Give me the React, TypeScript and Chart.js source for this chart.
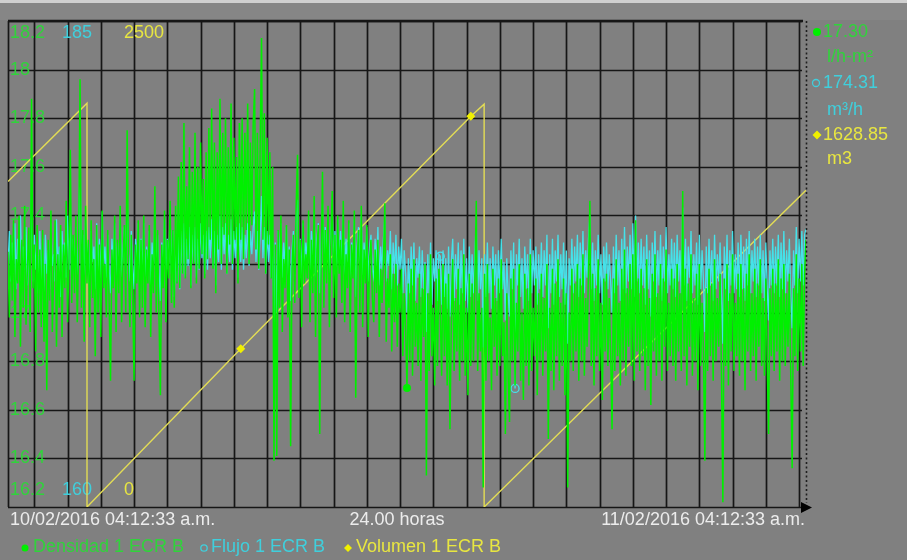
import React, { useEffect, useRef } from "react";
import { Chart, registerables } from "chart.js";

Chart.register(...registerables);

// ---------- texts ----------
const START_LABEL = "10/02/2016 04:12:33 a.m.";
const END_LABEL = "11/02/2016 04:12:33 a.m.";
const SPAN_LABEL = "24.00 horas";
const SERIES_NAMES = ["Densidad 1 ECR B", "Flujo 1 ECR B", "Volumen 1 ECR B"];
const CURRENT_VALUES = ["17.30", "174.31", "1628.85"];
const UNITS = ["l/h-m²", "m³/h", "m3"];

// ---------- axes ----------
const DENSITY_TICKS = [16.2, 16.4, 16.6, 16.8, 17, 17.2, 17.4, 17.6, 17.8, 18, 18.2];
const FLOW_TICKS = [160, 185];
const VOLUME_TICKS = [0, 2500];
const HOURS_SPAN = 24;
const SAMPLES_PER_HOUR = 24;
const FIRST_WHOLE_HOUR = 0.7908; // 04:12:33 -> 05:00:00

// ---------- series (one sample every 2.5 minutes, one row per hour) ----------
const densidad = [
  17.25, 16.98, 17.32, 17.05, 17.38, 16.90, 17.22, 17.12, 17.40, 16.86, 17.30, 17.02, 17.44, 16.95, 17.18, 17.35, 16.92, 17.88, 17.10, 17.28, 16.84, 17.36, 17.00, 17.26,
  16.94, 17.34, 16.88, 17.20, 16.68, 17.30, 17.05, 17.42, 16.92, 17.16, 17.38, 16.86, 17.24, 17.02, 17.36, 16.90, 17.28, 17.10, 17.46, 16.96, 17.22, 17.67, 17.04, 17.32,
  17.08, 17.40, 16.96, 17.26, 17.96, 17.02, 17.34, 16.88, 17.44, 17.12, 17.30, 16.94, 17.38, 17.06, 17.22, 16.82, 17.36, 17.00, 17.28, 16.90, 17.42, 17.10, 17.20, 16.98,
  17.34, 17.04, 16.72, 17.26, 17.10, 17.40, 16.92, 17.30, 17.08, 17.44, 16.96, 17.22, 17.36, 17.00, 17.75, 17.18, 16.94, 17.32, 17.06, 16.72, 17.28, 17.12, 17.38, 16.98,
  17.30, 17.02, 17.40, 16.94, 17.26, 17.12, 17.36, 16.90, 17.24, 17.08, 17.52, 17.00, 17.34, 16.98, 16.66, 17.28, 17.10, 17.42, 16.96, 17.30, 17.14, 17.46, 17.04, 17.34,
  17.02, 17.44, 17.12, 17.56, 17.10, 17.62, 17.16, 17.78, 17.14, 17.52, 17.22, 17.68, 17.10, 17.58, 17.20, 17.74, 17.12, 17.60, 17.18, 17.70, 17.24, 17.55, 17.14, 17.66,
  17.22, 17.76, 17.30, 17.84, 17.18, 17.70, 17.08, 17.66, 17.26, 17.88, 17.20, 17.74, 17.32, 17.80, 17.16, 17.68, 17.28, 17.86, 17.20, 17.72, 17.30, 17.64, 17.12, 17.78,
  17.30, 17.80, 17.22, 17.74, 17.34, 17.86, 17.20, 17.70, 17.36, 17.78, 17.92, 17.26, 17.74, 17.18, 17.68, 18.13, 17.30, 17.82, 17.16, 17.72, 17.28, 17.66, 17.14, 17.60,
  16.39, 17.28, 16.41, 17.34, 17.02, 17.40, 16.92, 17.22, 17.10, 17.36, 16.98, 17.26, 16.45, 17.18, 17.32, 17.04, 17.44, 17.65, 17.06, 17.30, 16.94, 17.38, 17.12, 17.24,
  17.14, 17.42, 16.96, 17.30, 17.08, 17.48, 16.90, 17.26, 17.36, 16.50, 17.20, 17.58, 17.02, 17.34, 17.12, 17.44, 16.94, 17.28, 17.50, 17.06, 17.32, 16.98, 17.40, 17.16,
  17.30, 17.04, 17.46, 16.96, 17.24, 17.10, 17.38, 16.92, 17.28, 17.14, 17.42, 16.65, 17.20, 17.34, 17.00, 17.44, 16.94, 17.26, 17.12, 17.36, 16.90, 17.22, 17.30, 17.06,
  16.96, 17.26, 17.08, 17.30, 16.90, 17.18, 17.04, 17.22, 17.45, 16.88, 17.14, 17.02, 17.24, 16.84, 17.16, 16.96, 17.20, 16.86, 17.12, 17.00, 17.18, 16.82, 17.08, 16.94,
  16.69, 17.12, 16.80, 17.18, 16.74, 17.22, 16.86, 17.04, 16.78, 17.16, 16.72, 17.10, 16.90, 17.20, 16.33, 17.08, 16.76, 17.24, 16.82, 17.02, 16.70, 17.14, 16.78, 17.18,
  17.00, 16.74, 17.20, 16.82, 17.12, 16.70, 17.16, 16.52, 16.96, 17.22, 16.76, 17.06, 16.84, 17.18, 16.72, 17.10, 16.80, 17.24, 16.74, 17.02, 16.66, 17.16, 16.78, 17.12,
  16.80, 17.14, 17.46, 16.76, 17.08, 16.84, 17.02, 16.28, 17.16, 16.72, 17.20, 16.80, 16.98, 16.68, 17.18, 16.86, 17.06, 16.74, 17.14, 16.78, 17.22, 16.82, 16.96, 16.50,
  17.08, 16.74, 16.55, 17.14, 16.80, 17.18, 16.70, 17.04, 16.84, 17.20, 16.72, 17.00, 16.64, 17.16, 16.78, 17.10, 16.70, 17.24, 16.76, 17.02, 16.82, 17.14, 16.66, 17.08,
  16.80, 17.16, 16.74, 17.06, 16.84, 17.20, 16.48, 17.02, 16.76, 17.18, 16.68, 17.12, 16.82, 17.22, 16.72, 17.04, 16.78, 17.14, 16.66, 17.08, 16.28, 17.00, 16.80, 17.18,
  16.76, 17.12, 16.84, 17.20, 16.72, 17.14, 16.80, 17.24, 16.74, 17.06, 16.86, 17.18, 17.46, 16.78, 17.16, 16.70, 17.10, 16.82, 17.22, 16.76, 17.04, 16.64, 17.14, 16.84,
  17.16, 16.78, 17.06, 16.84, 16.52, 17.14, 16.76, 17.22, 16.82, 17.04, 16.70, 17.18, 16.80, 17.26, 16.74, 17.10, 16.86, 17.20, 16.78, 17.24, 16.72, 17.38, 16.84, 17.14,
  16.76, 17.18, 16.82, 17.10, 16.68, 17.22, 16.78, 17.06, 16.62, 17.16, 16.84, 17.24, 16.74, 17.08, 16.80, 17.20, 16.72, 17.14, 16.86, 17.26, 16.76, 17.04, 16.82, 17.18,
  16.78, 17.14, 16.72, 17.20, 16.84, 17.08, 16.76, 17.50, 16.82, 17.18, 16.70, 17.12, 16.86, 17.24, 16.74, 17.06, 16.80, 17.16, 16.68, 17.20, 16.78, 17.04, 16.84, 16.39,
  17.10, 16.76, 17.18, 16.82, 17.12, 16.72, 17.22, 16.80, 17.06, 16.86, 17.16, 16.74, 16.22, 17.14, 16.78, 17.20, 16.70, 17.08, 16.84, 17.24, 16.76, 17.04, 16.82, 17.16,
  16.74, 17.20, 16.80, 17.10, 16.68, 17.16, 16.84, 17.24, 16.76, 17.08, 16.82, 17.18, 16.72, 17.12, 16.86, 17.22, 16.78, 17.06, 16.74, 17.14, 16.80, 16.50, 17.10, 16.82,
  17.18, 16.76, 17.12, 16.84, 17.22, 16.72, 17.14, 16.80, 17.20, 16.78, 17.08, 16.86, 17.16, 16.74, 16.36, 17.10, 16.82, 17.24, 16.76, 17.14, 16.84, 17.20, 16.78, 17.16, 17.30,
];

const flujo = [
  172.4, 174.2, 171.6, 173.6, 172.0, 174.6, 171.2, 173.8, 172.6, 175.0, 171.8, 173.4, 172.2, 174.4, 171.4, 173.2, 172.8, 176.0, 171.6, 174.0, 172.2, 173.6, 171.0, 174.2,
  171.4, 173.8, 170.6, 174.0, 172.0, 173.2, 171.2, 174.6, 172.4, 173.0, 171.6, 174.8, 172.0, 173.4, 170.8, 174.2, 172.6, 173.6, 171.8, 175.0, 172.2, 175.6, 171.4, 173.8,
  172.0, 174.4, 171.6, 173.6, 178.5, 172.2, 174.0, 171.4, 174.8, 172.4, 173.6, 171.0, 174.2, 172.6, 173.4, 171.2, 174.6, 172.0, 173.8, 171.6, 175.2, 172.4, 173.4, 171.8,
  174.0, 172.2, 171.0, 173.8, 172.6, 174.6, 171.4, 173.6, 172.0, 174.8, 171.8, 173.2, 174.4, 172.0, 176.4, 173.0, 171.6, 174.2, 172.4, 171.2, 173.8, 172.6, 174.6, 171.8,
  173.8, 172.0, 174.6, 171.6, 173.4, 172.4, 174.2, 171.2, 173.6, 172.2, 175.2, 171.8, 174.0, 172.0, 170.6, 173.6, 172.4, 174.8, 171.6, 173.8, 172.6, 175.0, 172.0, 174.2,
  170.8, 173.4, 171.6, 174.0, 171.2, 174.2, 172.0, 174.6, 171.8, 173.8, 172.4, 174.4, 171.4, 174.0, 172.6, 174.4, 171.8, 173.8, 172.2, 174.6, 172.8, 174.0, 172.0, 174.2,
  172.2, 174.4, 172.8, 174.8, 172.4, 174.2, 171.4, 174.0, 172.6, 175.0, 172.2, 174.4, 173.0, 174.6, 172.0, 174.0, 172.6, 174.8, 172.2, 174.2, 172.8, 174.4, 171.8, 174.6,
  172.6, 174.4, 172.2, 174.0, 172.8, 174.6, 172.4, 174.2, 173.0, 174.4, 175.2, 172.6, 174.2, 172.2, 174.0, 176.0, 172.8, 174.4, 172.0, 174.2, 172.6, 174.0, 171.8, 173.6,
  169.5, 173.6, 170.0, 174.2, 172.6, 174.6, 171.8, 173.6, 172.4, 174.4, 171.6, 173.4, 170.6, 173.2, 174.2, 172.4, 174.8, 175.8, 172.2, 173.8, 171.8, 174.6, 172.6, 173.6,
  172.8, 175.0, 171.8, 174.2, 172.6, 175.2, 171.6, 173.8, 174.6, 171.0, 173.4, 175.6, 172.2, 174.4, 172.8, 175.0, 171.8, 174.0, 175.4, 172.4, 174.2, 172.0, 174.8, 172.6,
  174.2, 172.4, 175.0, 171.8, 173.8, 172.6, 174.6, 171.6, 173.6, 172.8, 174.8, 170.8, 173.4, 174.4, 172.0, 175.0, 171.8, 173.6, 172.4, 174.4, 171.6, 173.4, 174.0, 172.2,
  171.8, 173.8, 172.4, 174.4, 171.4, 173.4, 172.2, 173.8, 175.0, 171.6, 173.2, 172.4, 174.2, 171.2, 173.6, 172.0, 174.0, 171.4, 173.4, 172.2, 173.8, 171.0, 173.2, 172.0,
  170.0, 172.8, 171.0, 173.4, 171.4, 173.6, 170.6, 172.8, 171.8, 173.4, 170.8, 173.2, 171.2, 172.6, 169.0, 173.0, 171.0, 173.6, 170.4, 172.8, 171.6, 173.2, 170.6, 173.0,
  172.9, 170.4, 173.2, 170.8, 172.8, 170.2, 173.4, 169.8, 172.6, 173.8, 170.6, 173.0, 171.2, 173.6, 170.4, 173.2, 171.0, 173.8, 170.6, 172.8, 170.0, 173.4, 170.8, 173.0,
  171.0, 173.0, 174.8, 170.6, 173.2, 171.2, 172.8, 168.2, 173.0, 170.8, 173.6, 171.0, 172.8, 170.2, 173.4, 171.4, 173.0, 170.6, 173.2, 171.0, 173.8, 171.2, 172.6, 169.6,
  172.8, 171.0, 169.8, 173.2, 171.2, 173.6, 166.1, 173.0, 171.4, 173.8, 170.8, 172.8, 170.2, 173.4, 171.2, 173.0, 170.6, 173.8, 171.0, 173.2, 171.4, 173.4, 170.4, 173.0,
  171.2, 173.6, 170.8, 173.2, 171.4, 174.0, 169.2, 173.0, 171.0, 173.8, 170.4, 173.2, 171.6, 174.0, 170.8, 173.0, 171.2, 173.6, 170.4, 173.2, 168.4, 172.8, 171.4, 173.8,
  171.0, 173.4, 171.6, 174.0, 170.8, 173.6, 171.4, 174.2, 171.0, 173.2, 171.8, 173.8, 175.0, 171.2, 173.6, 170.6, 173.2, 171.4, 174.0, 171.0, 173.0, 170.4, 173.4, 171.6,
  173.6, 171.2, 173.0, 171.6, 170.0, 173.4, 171.0, 174.0, 171.4, 173.2, 170.6, 173.8, 171.2, 174.4, 171.0, 173.4, 171.6, 174.0, 171.2, 174.6, 170.8, 175.0, 171.6, 173.6,
  171.0, 173.8, 171.4, 173.4, 170.4, 174.0, 171.2, 173.2, 169.8, 173.6, 171.6, 174.2, 170.8, 173.2, 171.4, 174.0, 170.6, 173.4, 171.6, 174.4, 171.0, 173.0, 171.4, 173.8,
  171.2, 173.6, 170.8, 174.0, 171.6, 173.2, 171.0, 175.4, 171.4, 173.8, 170.6, 173.4, 171.8, 174.2, 171.0, 173.0, 171.4, 173.6, 170.4, 174.0, 171.2, 173.2, 171.6, 169.0,
  173.4, 171.0, 173.8, 171.4, 173.2, 170.6, 174.0, 171.2, 173.0, 171.6, 173.6, 170.8, 168.4, 173.4, 171.2, 174.0, 170.6, 173.2, 171.4, 174.2, 171.0, 173.0, 171.2, 173.6,
  170.8, 174.0, 171.2, 173.4, 170.6, 173.8, 171.4, 174.2, 171.0, 173.2, 171.6, 173.8, 170.8, 173.4, 171.4, 174.0, 171.0, 173.2, 170.6, 173.6, 171.2, 169.6, 173.2, 171.4,
  173.8, 171.0, 173.4, 171.4, 174.0, 170.8, 173.6, 171.2, 174.2, 171.0, 173.2, 171.6, 173.8, 170.8, 169.2, 173.2, 171.4, 174.4, 171.0, 173.8, 171.6, 174.2, 171.4, 174.0, 174.31,
];

const volumenHours = [0, 2.376, 2.376, 7.0, 13.92, 14.32, 14.32, 24];
const volumenValues = [1675, 2077, 0, 814, 2010, 2072, 0, 1629];

// sample indices that carry a marker
const DENSITY_MARKERS = [288];
const FLOW_MARKERS = [312, 366];
const VOLUME_MARKERS = [3, 4];

// ---------- colours ----------
const GREEN = "#00f000";
const CYAN = "#45e2ea";
const YELLOW = "#e2dc55";
const GREEN_TXT = "#2fd43a";
const CYAN_TXT = "#3fcfdc";
const YELLOW_TXT = "#e8e640";
const WHITE_TXT = "#ececec";
const BG = "#808080";
const FONT = '18px "Liberation Sans", Arial, sans-serif';

function drawDiamond(ctx: CanvasRenderingContext2D, x: number, y: number, r: number, color: string) {
  ctx.beginPath();
  ctx.moveTo(x, y - r);
  ctx.lineTo(x + r, y);
  ctx.lineTo(x, y + r);
  ctx.lineTo(x - r, y);
  ctx.closePath();
  ctx.fillStyle = color;
  ctx.fill();
}

const framePlugin = {
  id: "frame",
  beforeDraw(chart: any) {
    const ctx = chart.ctx as CanvasRenderingContext2D;
    const w = chart.width;
    const h = chart.height;
    ctx.save();
    ctx.fillStyle = BG;
    ctx.fillRect(0, 0, w, h);
    ctx.fillStyle = "#d0d0d0";
    ctx.fillRect(0, 0, w, 3);
    ctx.fillStyle = "#868686";
    ctx.fillRect(0, 3, w, 17);
    ctx.restore();
  },
  beforeDatasetsDraw(chart: any) {
    const ctx = chart.ctx as CanvasRenderingContext2D;
    const a = chart.chartArea;
    const sx = chart.scales.x;
    const sd = chart.scales.yD;
    const sf = chart.scales.yF;
    const sv = chart.scales.yV;
    ctx.save();
    ctx.strokeStyle = "#161616";
    ctx.lineWidth = 1.7;
    DENSITY_TICKS.forEach((t) => {
      const y = Math.round(sd.getPixelForValue(t)) + 0.5;
      ctx.beginPath();
      ctx.moveTo(a.left, y);
      ctx.lineTo(a.right - 4, y);
      ctx.stroke();
    });
    for (let k = 0; k < HOURS_SPAN; k++) {
      const x = Math.round(sx.getPixelForValue(FIRST_WHOLE_HOUR + k)) + 0.5;
      ctx.beginPath();
      ctx.moveTo(x, a.top);
      ctx.lineTo(x, a.bottom);
      ctx.stroke();
    }
    ctx.beginPath();
    ctx.moveTo(a.left + 0.5, a.top);
    ctx.lineTo(a.left + 0.5, a.bottom);
    ctx.stroke();
    ctx.lineWidth = 2.5;
    ctx.beginPath();
    ctx.moveTo(a.left, a.top);
    ctx.lineTo(a.right - 3, a.top);
    ctx.stroke();

    // axis labels (behind the data)
    ctx.font = FONT;
    ctx.textBaseline = "middle";
    ctx.textAlign = "left";
    const labelY = (scale: any, v: number, min: number, max: number) => {
      const y = scale.getPixelForValue(v);
      if (v === max) return y + 12;
      if (v === min) return y - 17;
      return y;
    };
    ctx.fillStyle = GREEN_TXT;
    DENSITY_TICKS.forEach((t) => {
      ctx.fillText(String(t), a.left + 2, labelY(sd, t, DENSITY_TICKS[0], DENSITY_TICKS[DENSITY_TICKS.length - 1]));
    });
    ctx.fillStyle = CYAN_TXT;
    FLOW_TICKS.forEach((t) => {
      ctx.fillText(String(t), a.left + 54, labelY(sf, t, FLOW_TICKS[0], FLOW_TICKS[1]));
    });
    ctx.fillStyle = YELLOW_TXT;
    VOLUME_TICKS.forEach((t) => {
      ctx.fillText(String(t), a.left + 116, labelY(sv, t, VOLUME_TICKS[0], VOLUME_TICKS[1]));
    });
    ctx.restore();
  },
  afterDraw(chart: any) {
    const ctx = chart.ctx as CanvasRenderingContext2D;
    const a = chart.chartArea;
    ctx.save();
    ctx.strokeStyle = "#1e1e1e";
    ctx.lineWidth = 1.6;
    ctx.setLineDash([2, 2.5]);
    ctx.beginPath();
    ctx.moveTo(a.right + 0.5, a.top);
    ctx.lineTo(a.right + 0.5, a.bottom - 4);
    ctx.stroke();
    ctx.setLineDash([]);
    ctx.fillStyle = "#000";
    ctx.beginPath();
    ctx.moveTo(a.right - 5, a.bottom - 5);
    ctx.lineTo(a.right + 6, a.bottom + 0.5);
    ctx.lineTo(a.right - 5, a.bottom + 6);
    ctx.closePath();
    ctx.fill();

    ctx.font = FONT;
    ctx.textBaseline = "middle";
    ctx.fillStyle = WHITE_TXT;
    ctx.textAlign = "left";
    ctx.fillText(START_LABEL, a.left + 2, 520);
    ctx.textAlign = "center";
    ctx.fillText(SPAN_LABEL, (a.left + a.right) / 2 - 10, 520);
    ctx.textAlign = "right";
    ctx.fillText(END_LABEL, a.right - 1, 520);

    // legend
    ctx.textAlign = "left";
    ctx.fillStyle = GREEN;
    ctx.beginPath();
    ctx.arc(25, 548, 3.5, 0, Math.PI * 2);
    ctx.fill();
    ctx.fillStyle = GREEN_TXT;
    ctx.fillText(SERIES_NAMES[0], 33, 547);
    ctx.strokeStyle = CYAN_TXT;
    ctx.lineWidth = 1.3;
    ctx.beginPath();
    ctx.arc(204, 548, 3.2, 0, Math.PI * 2);
    ctx.stroke();
    ctx.fillStyle = CYAN_TXT;
    ctx.fillText(SERIES_NAMES[1], 211, 547);
    drawDiamond(ctx, 348, 548, 4, "#f0f000");
    ctx.fillStyle = YELLOW_TXT;
    ctx.fillText(SERIES_NAMES[2], 356, 547);

    // current values panel
    const px = a.right + 11;
    ctx.fillStyle = GREEN;
    ctx.beginPath();
    ctx.arc(px, 32, 4, 0, Math.PI * 2);
    ctx.fill();
    ctx.fillStyle = GREEN_TXT;
    ctx.fillText(CURRENT_VALUES[0], px + 6, 32);
    ctx.fillText(UNITS[0], px + 10, 57);
    ctx.strokeStyle = CYAN_TXT;
    ctx.lineWidth = 1.3;
    ctx.beginPath();
    ctx.arc(px - 1, 83, 3.5, 0, Math.PI * 2);
    ctx.stroke();
    ctx.fillStyle = CYAN_TXT;
    ctx.fillText(CURRENT_VALUES[1], px + 6, 83);
    ctx.fillText(UNITS[1], px + 10, 110);
    drawDiamond(ctx, px, 135, 4.5, "#f0f000");
    ctx.fillStyle = YELLOW_TXT;
    ctx.fillText(CURRENT_VALUES[2], px + 6, 135);
    ctx.fillText(UNITS[2], px + 10, 159);
    ctx.restore();
  },
};

export default function App() {
  const ref = useRef<HTMLCanvasElement>(null);

  useEffect(() => {
    const canvas = ref.current;
    if (!canvas) return;
    const hourOf = (i: number) => i / SAMPLES_PER_HOUR;

    const chart = new Chart(canvas, {
      type: "line",
      data: {
        datasets: [
          {
            label: SERIES_NAMES[0],
            data: densidad.map((v, i) => ({ x: hourOf(i), y: v })),
            yAxisID: "yD",
            borderColor: GREEN,
            backgroundColor: GREEN,
            borderWidth: 1.5,
            tension: 0,
            pointRadius: (c: any) => (DENSITY_MARKERS.includes(c.dataIndex) ? 4 : 0),
            pointBackgroundColor: GREEN,
            pointBorderWidth: 0,
          },
          {
            label: SERIES_NAMES[1],
            data: flujo.map((v, i) => ({ x: hourOf(i), y: v })),
            yAxisID: "yF",
            borderColor: CYAN,
            backgroundColor: "rgba(0,0,0,0)",
            borderWidth: 1.3,
            tension: 0,
            pointRadius: (c: any) => (FLOW_MARKERS.includes(c.dataIndex) ? 4 : 0),
            pointBorderColor: CYAN,
            pointBackgroundColor: "rgba(0,0,0,0)",
            pointBorderWidth: 1.3,
          },
          {
            label: SERIES_NAMES[2],
            data: volumenValues.map((v, i) => ({ x: volumenHours[i], y: v })),
            yAxisID: "yV",
            borderColor: YELLOW,
            backgroundColor: "#f0f000",
            borderWidth: 1.4,
            tension: 0,
            pointStyle: "rectRot",
            pointRadius: (c: any) => (VOLUME_MARKERS.includes(c.dataIndex) ? 4.5 : 0),
            pointBackgroundColor: "#f0f000",
            pointBorderWidth: 0,
          },
        ],
      },
      options: {
        responsive: false,
        animation: false,
        devicePixelRatio: 1,
        events: [],
        layout: { padding: { left: 8, top: 21, right: 101, bottom: 53 } },
        plugins: { legend: { display: false }, tooltip: { enabled: false } },
        scales: {
          x: { type: "linear", min: 0, max: HOURS_SPAN, display: false },
          yD: { type: "linear", min: DENSITY_TICKS[0], max: DENSITY_TICKS[DENSITY_TICKS.length - 1], display: false },
          yF: { type: "linear", min: FLOW_TICKS[0], max: FLOW_TICKS[1], display: false },
          yV: { type: "linear", min: VOLUME_TICKS[0], max: VOLUME_TICKS[1], display: false },
        },
      } as any,
      plugins: [framePlugin],
    });
    return () => chart.destroy();
  }, []);

  return (
    <div style={{ position: "fixed", left: 0, top: 0, width: 907, height: 560, background: BG }}>
      <canvas ref={ref} width={907} height={560} style={{ display: "block", width: 907, height: 560 }} />
    </div>
  );
}
